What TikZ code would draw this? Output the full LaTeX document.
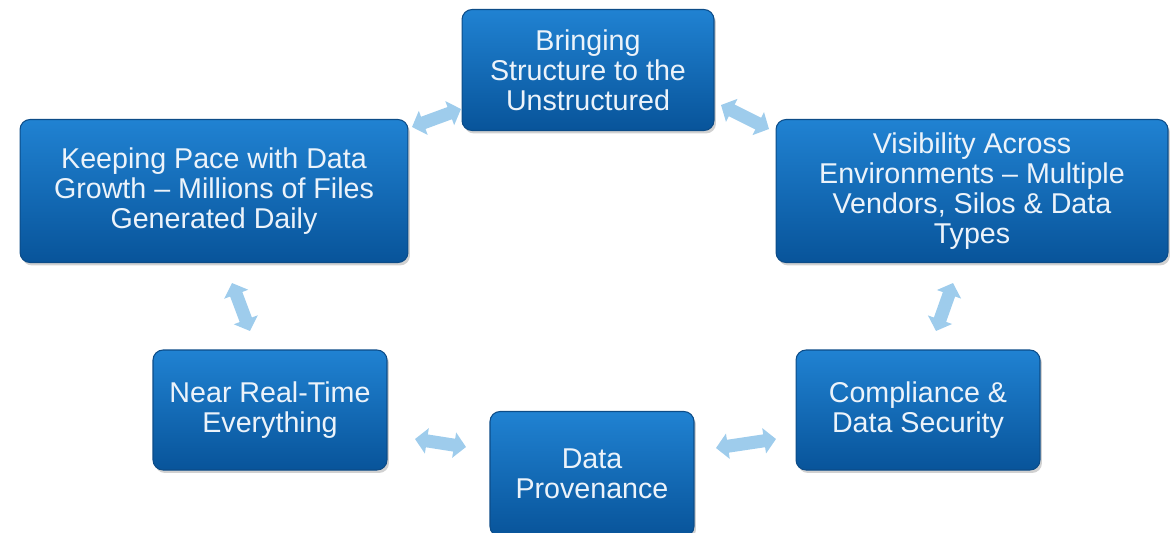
\documentclass[tikz,border=0pt]{standalone}
\usepackage{fontspec}
\setmainfont{Liberation Sans}
\usetikzlibrary{arrows.meta,shadows}

\definecolor{boxtop}{RGB}{32,130,210}
\definecolor{boxbottom}{RGB}{8,84,154}
\definecolor{boxedge}{RGB}{12,76,136}
\definecolor{boxtext}{RGB}{236,243,250}
\definecolor{linkblue}{RGB}{158,204,236}

\tikzset{
  cyclebox/.style={rectangle, rounded corners=0.2cm, draw=boxedge, line width=0.6pt,
    top color=boxtop, bottom color=boxbottom, text=boxtext, align=center,
    font=\fontsize{16.3}{17.2}\selectfont, inner sep=0pt,
    drop shadow={shadow xshift=0.04cm, shadow yshift=-0.06cm, opacity=0.3, fill=black!60}},
  link/.style={draw=linkblue, line width=0.26cm,
    {Triangle[width=0.5cm,length=0.24cm]}-{Triangle[width=0.5cm,length=0.24cm]}}
}

\begin{document}
\begin{tikzpicture}[x=0.02cm,y=-0.02cm]
  \useasboundingbox (0,0) rectangle (1170,532);

  % double-headed links between the stages
  \coordinate (l1a) at (412,127);  \coordinate (l1b) at (461,109);
  \coordinate (l2a) at (721,105);  \coordinate (l2b) at (769,129);
  \coordinate (l3a) at (953,283);  \coordinate (l3b) at (936,331);
  \coordinate (l4a) at (232,283);  \coordinate (l4b) at (250,331);
  \coordinate (l5a) at (415,439);  \coordinate (l5b) at (466,447);
  \coordinate (l6a) at (716,448);  \coordinate (l6b) at (776,439);
  \draw[link] (l1a) -- (l1b);
  \draw[link] (l2a) -- (l2b);
  \draw[link] (l3a) -- (l3b);
  \draw[link] (l4a) -- (l4b);
  \draw[link] (l5a) -- (l5b);
  \draw[link] (l6a) -- (l6b);

  % stages of the cycle
  \node[cyclebox, minimum width=5.04cm, minimum height=2.42cm] (structure) at (588,70)
    {Bringing\\Structure to the\\Unstructured};
  \node[cyclebox, minimum width=7.76cm, minimum height=2.86cm] (pace) at (214,191)
    {Keeping Pace with Data\\Growth -- Millions of Files\\Generated Daily};
  \node[cyclebox, minimum width=7.84cm, minimum height=2.86cm] (visibility) at (972,191)
    {Visibility Across\\Environments -- Multiple\\Vendors, Silos \& Data\\Types};
  \node[cyclebox, minimum width=4.68cm, minimum height=2.4cm] (realtime) at (270,410)
    {Near Real-Time\\Everything};
  \node[cyclebox, minimum width=4.08cm, minimum height=2.5cm] (provenance) at (592,474)
    {Data\\Provenance};
  \node[cyclebox, minimum width=4.88cm, minimum height=2.4cm] (compliance) at (918,410)
    {Compliance \&\\Data Security};
\end{tikzpicture}
\end{document}
